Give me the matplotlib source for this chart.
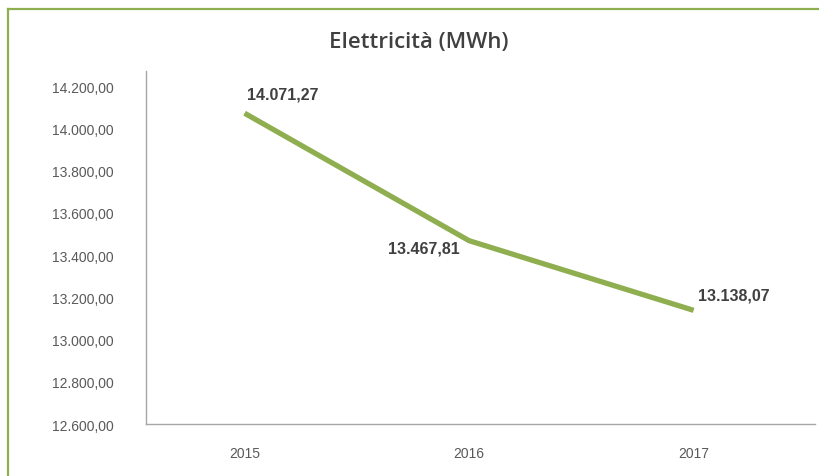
import numpy as np
import matplotlib.pyplot as plt
from matplotlib.lines import Line2D

# Dati
anni = ['2015', '2016', '2017']
valori = [14071.27, 13467.81, 13138.07]
etichette = ['14.071,27', '13.467,81', '13.138,07']
yticks = [12600, 12800, 13000, 13200, 13400, 13600, 13800, 14000, 14200]


def fmt_it(v):
    # formato italiano: punto per migliaia, virgola per decimali
    s = f'{v:,.2f}'
    return s.replace(',', 'X').replace('.', ',').replace('X', '.')


verde = '#8fae50'

fig = plt.figure(figsize=(8.19, 4.77), dpi=100)
ax = fig.add_axes([0.178, 0.109, 0.817, 0.740])

x = np.arange(len(anni))
ax.plot(x, valori, color=verde, linewidth=3.8, solid_capstyle='butt')

ax.set_xlim(-0.44, 2.54)
ax.set_ylim(12600, 14271)
ax.set_xticks(x)
ax.set_xticklabels(anni)
ax.set_yticks(yticks)
ax.set_yticklabels([fmt_it(v) for v in yticks])

for sp in ['top', 'right']:
    ax.spines[sp].set_visible(False)
for sp in ['left', 'bottom']:
    ax.spines[sp].set_color('#a6a6a6')
    ax.spines[sp].set_linewidth(1.0)

ax.tick_params(axis='both', length=0, labelsize=10, labelcolor='#595959')
ax.tick_params(axis='y', pad=23)
ax.tick_params(axis='x', pad=16)
for t in ax.get_xticklabels() + ax.get_yticklabels():
    t.set_fontfamily('Liberation Sans')

# etichette dati
offsets = [(2, 14, 'left'), (-7, -5, 'right'), (3, 11, 'left')]
for xi, v, lab, (dx, dy, ha) in zip(x, valori, etichette, offsets):
    ax.annotate(lab, (xi, v), xytext=(dx, dy), textcoords='offset points',
                ha=ha, va='center', fontsize=11.5, fontweight='bold',
                color='#404040', family='Liberation Sans')

fig.text(0.511, 0.910, 'Elettricità (MWh)', ha='center', va='center',
         fontsize=16, fontweight='semibold', color='#404040', family='Open Sans')

# cornice verde (alto e sinistra)
fig.add_artist(Line2D([0.0098, 1.0], [0.979, 0.979], transform=fig.transFigure,
                      color=verde, linewidth=1.6))
fig.add_artist(Line2D([0.0098, 0.0098], [0.0, 0.979], transform=fig.transFigure,
                      color=verde, linewidth=1.6))

fig.savefig('out.png', dpi=100)
